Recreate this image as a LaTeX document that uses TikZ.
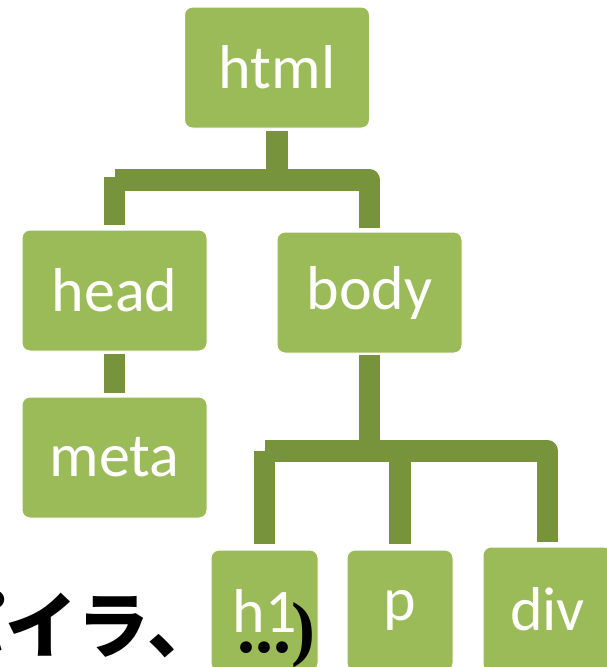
\documentclass[tikz,border=0pt]{standalone}
\usepackage{fontspec}
\setmainfont{Carlito}
\newfontfamily\cjk{Noto Sans CJK JP}
\newfontfamily\serifb{Liberation Serif}
\definecolor{boxgreen}{HTML}{9BBB59}
\definecolor{linkgreen}{HTML}{77933C}
\begin{document}
\begin{tikzpicture}[x=1pt,y=-1pt,
  tbox/.style={rectangle, rounded corners=8pt, fill=boxgreen, draw=white, line width=1pt,
    minimum width=185pt, minimum height=121pt, inner sep=0pt, text=white,
    font=\fontsize{62}{70}\selectfont},
  conn/.style={draw=linkgreen, line width=21.5pt, line join=round, line cap=butt}]
\useasboundingbox (0,0) rectangle (607,667);
% nodes
\node[tbox] (html) at (277,67.5) {html};
\node[tbox] (head) at (114.5,290.5) {head};
\node[tbox] (meta) at (114.5,457.5) {meta};
\node[tbox] (body) at (369.5,292.5) {body};
\node[tbox, minimum width=107pt] (h1) at (264.5,610.5) {h1};
\node[tbox, minimum width=106pt] (p) at (400,610.5) {p};
\node[tbox, minimum width=129pt, minimum height=125pt] (div) at (547.5,609.5) {div};
% bar coordinates
\coordinate (bar1) at (0,180);
\coordinate (bar2) at (0,451);
% connectors
\draw[conn, shorten <=2pt] (html.south) -- (html.south |- bar1);
\draw[conn, shorten <=-3pt, shorten >=5pt] (head.north |- bar1) -- (head.north);
\draw[conn, shorten >=4pt] (head.north |- bar1) -- (body.north |- bar1) -- (body.north);
\draw[conn, shorten <=2pt, shorten >=4pt] (head.south) -- (meta.north);
\draw[conn, shorten <=1pt] (body.south) -- (body.south |- bar2);
\draw[conn, shorten >=5pt] (h1.north |- bar2) -- (div.north |- bar2) -- (div.north);
\draw[conn, shorten >=6pt] (h1.north |- bar2) -- (h1.north);
\draw[conn, shorten >=6pt] (p.north |- bar2) -- (p.north);
% redraw boxes on top of the connectors
\node[tbox] at (html) {html};
\node[tbox] at (head) {head};
\node[tbox] at (meta) {meta};
\node[tbox] at (body) {body};
\node[tbox, minimum width=107pt] at (h1) {h1};
\node[tbox, minimum width=106pt] at (p) {p};
\node[tbox, minimum width=129pt, minimum height=125pt] at (div) {div};
% overlay text
\node[anchor=base west, inner sep=0pt, font=\cjk\bfseries\fontsize{72}{80}\selectfont] (jp) at (-67,652) {パイラ、};
\node[anchor=base west, inner sep=0pt, font=\serifb\bfseries\fontsize{72}{80}\selectfont] (tail) at (237,652) {...)};
\end{tikzpicture}
\end{document}
